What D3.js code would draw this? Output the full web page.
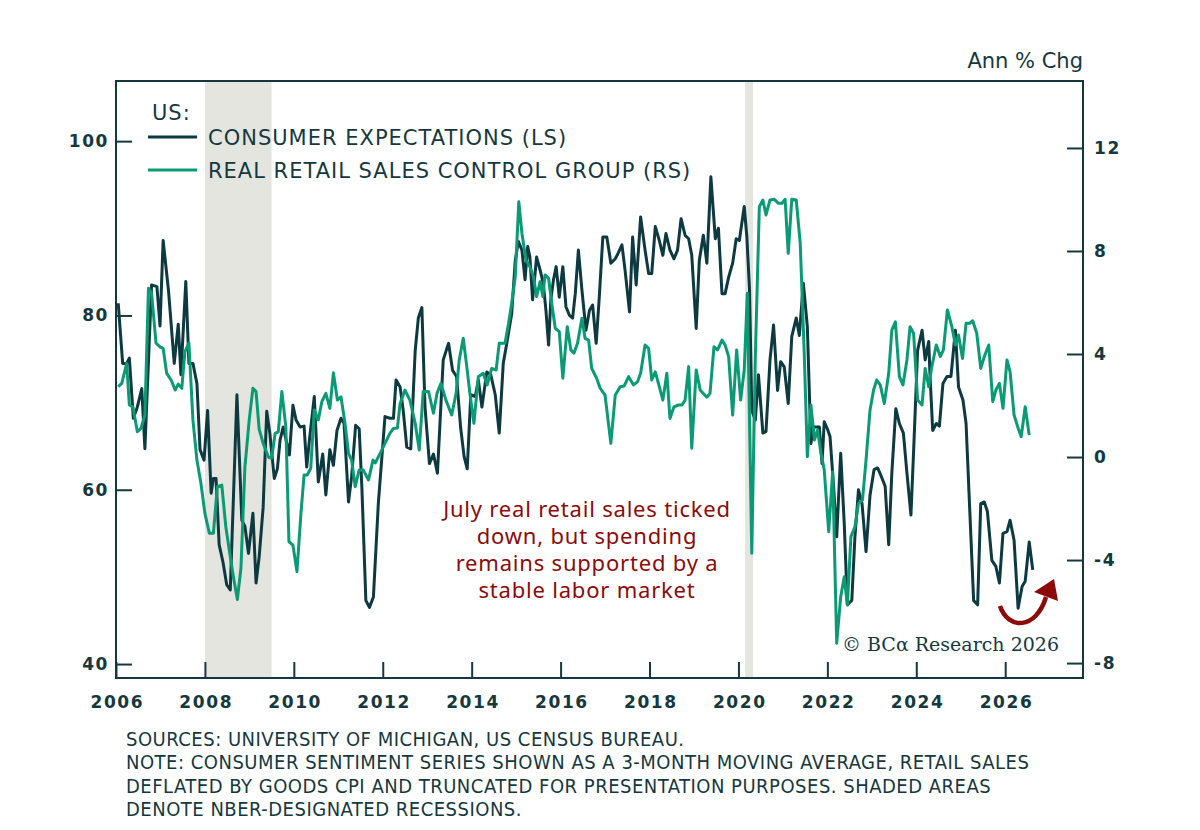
<!DOCTYPE html>
<html>
<head>
<meta charset="utf-8">
<script src="https://cdn.jsdelivr.net/npm/d3@7"></script>
<style>
  body { margin: 0; background: #ffffff; }
  svg { display: block; }
</style>
</head>
<body>
<svg id="chart"></svg>
<script>
// consumer expectations, left scale (index)
const expYears = [2006.05,2006.15,2006.24,2006.30,2006.39,2006.48,2006.58,2006.65,2006.80,2006.92,2006.99,2007.06,2007.18,2007.31,2007.40,2007.46,2007.57,2007.64,2007.73,2007.82,2007.89,2007.98,2008.06,2008.14,2008.19,2008.25,2008.32,2008.41,2008.49,2008.57,2008.72,2008.83,2008.90,2008.98,2009.08,2009.15,2009.22,2009.31,2009.39,2009.46,2009.56,2009.63,2009.69,2009.76,2009.90,2009.98,2010.05,2010.14,2010.23,2010.29,2010.35,2010.46,2010.55,2010.65,2010.72,2010.81,2010.89,2010.97,2011.06,2011.13,2011.23,2011.30,2011.39,2011.47,2011.53,2011.62,2011.70,2011.79,2011.90,2012.05,2012.16,2012.24,2012.30,2012.39,2012.46,2012.54,2012.63,2012.73,2012.80,2012.88,2012.95,2013.05,2013.14,2013.23,2013.36,2013.48,2013.57,2013.66,2013.75,2013.83,2013.90,2013.98,2014.08,2014.15,2014.23,2014.34,2014.43,2014.53,2014.62,2014.71,2014.79,2014.90,2014.98,2015.05,2015.13,2015.20,2015.26,2015.31,2015.37,2015.46,2015.54,2015.61,2015.67,2015.73,2015.78,2015.84,2015.90,2015.97,2016.05,2016.12,2016.20,2016.27,2016.33,2016.40,2016.48,2016.57,2016.65,2016.72,2016.80,2016.87,2016.95,2017.04,2017.13,2017.23,2017.30,2017.38,2017.45,2017.55,2017.62,2017.70,2017.80,2017.90,2017.98,2018.05,2018.13,2018.22,2018.30,2018.37,2018.46,2018.55,2018.63,2018.71,2018.80,2018.88,2018.95,2019.05,2019.12,2019.21,2019.29,2019.38,2019.48,2019.55,2019.63,2019.70,2019.78,2019.87,2019.95,2020.02,2020.13,2020.19,2020.25,2020.30,2020.38,2020.45,2020.55,2020.62,2020.71,2020.79,2020.88,2020.95,2021.03,2021.12,2021.20,2021.30,2021.37,2021.46,2021.55,2021.63,2021.69,2021.82,2021.88,2021.93,2022.00,2022.06,2022.14,2022.21,2022.30,2022.38,2022.45,2022.55,2022.62,2022.70,2022.78,2022.87,2022.96,2023.05,2023.13,2023.20,2023.30,2023.38,2023.45,2023.54,2023.62,2023.71,2023.79,2023.88,2023.95,2024.03,2024.13,2024.20,2024.28,2024.31,2024.37,2024.45,2024.52,2024.60,2024.69,2024.78,2024.88,2024.95,2025.05,2025.12,2025.20,2025.29,2025.38,2025.45,2025.53,2025.60,2025.70,2025.79,2025.87,2025.95,2026.04,2026.11,2026.20,2026.29,2026.38,2026.45,2026.54,2026.62];
const expValues = [81.4,74.5,74.5,75.1,68.2,69.5,71.6,64.7,83.5,83.3,78.8,88.6,82.9,74.5,79.0,73.2,83.9,74.5,74.5,72.2,64.6,63.4,69.1,59.6,61.3,61.3,53.7,51.6,49.1,48.5,70.9,56.5,55.8,52.7,57.3,49.3,52.3,58.0,69.0,66.5,61.3,62.4,65.7,67.2,64.0,69.7,68.0,67.2,67.3,62.6,65.7,70.7,60.9,64.1,59.4,64.6,62.8,66.8,68.2,67.6,58.6,61.5,67.4,67.0,60.3,47.3,46.5,47.7,58.4,68.4,68.2,68.2,72.6,71.8,69.1,64.9,64.7,76.0,79.7,80.9,69.5,63.0,64.1,61.9,74.9,76.8,73.7,73.0,67.2,63.8,62.4,70.9,70.7,72.6,69.5,73.5,73.2,70.9,66.5,74.5,76.8,80.2,86.3,88.5,87.5,84.1,87.9,86.7,81.8,86.7,85.2,83.7,80.6,76.6,81.8,84.1,85.6,82.1,85.6,81.0,80.0,79.7,82.5,87.5,82.9,78.3,80.6,81.2,76.8,82.1,89.0,89.0,86.0,86.5,87.2,88.1,85.2,80.4,89.0,83.5,91.3,87.5,84.8,84.8,90.2,88.6,86.9,89.4,87.5,86.5,87.5,91.1,89.2,88.8,86.9,78.5,86.3,89.2,86.0,95.9,88.8,90.0,82.5,82.5,84.4,86.0,88.8,88.6,92.5,89.0,82.9,69.1,68.0,73.2,66.5,66.7,74.9,78.9,71.4,74.7,74.1,69.9,77.6,79.7,77.7,83.7,78.7,65.3,67.2,67.2,63.0,67.8,67.0,66.1,60.4,54.6,64.2,56.1,46.8,47.3,54.6,60.0,58.4,52.9,59.4,62.3,62.5,61.7,60.4,53.7,61.9,69.3,67.6,66.5,61.9,57.1,65.7,76.0,78.3,74.9,77.0,73.0,66.8,67.6,67.3,72.2,73.0,73.0,78.3,71.8,70.3,67.6,58.0,47.3,46.8,58.4,58.6,57.5,51.9,51.2,49.3,55.0,55.2,56.5,54.2,46.4,48.9,49.5,54.0,50.8];

// real retail sales control group, right scale (ann % chg)
const salesYears = [2006.05,2006.13,2006.24,2006.30,2006.38,2006.48,2006.56,2006.65,2006.73,2006.80,2006.90,2006.99,2007.06,2007.14,2007.24,2007.33,2007.40,2007.48,2007.55,2007.64,2007.73,2007.82,2007.91,2008.00,2008.10,2008.19,2008.28,2008.38,2008.47,2008.57,2008.64,2008.73,2008.81,2008.90,2009.00,2009.08,2009.15,2009.22,2009.31,2009.43,2009.50,2009.58,2009.65,2009.73,2009.82,2009.89,2009.98,2010.07,2010.16,2010.23,2010.30,2010.38,2010.46,2010.55,2010.63,2010.72,2010.81,2010.89,2010.98,2011.06,2011.15,2011.23,2011.30,2011.38,2011.47,2011.56,2011.68,2011.78,2011.83,2011.94,2012.05,2012.16,2012.24,2012.33,2012.39,2012.50,2012.61,2012.73,2012.82,2012.91,2013.03,2013.14,2013.22,2013.31,2013.42,2013.55,2013.65,2013.72,2013.81,2013.89,2013.96,2014.05,2014.15,2014.26,2014.35,2014.45,2014.55,2014.62,2014.75,2014.83,2014.90,2014.98,2015.06,2015.13,2015.22,2015.31,2015.39,2015.46,2015.54,2015.60,2015.65,2015.73,2015.80,2015.88,2015.97,2016.05,2016.15,2016.23,2016.30,2016.38,2016.48,2016.55,2016.63,2016.70,2016.81,2016.89,2017.00,2017.13,2017.23,2017.34,2017.43,2017.53,2017.64,2017.73,2017.80,2017.90,2017.98,2018.05,2018.13,2018.22,2018.30,2018.39,2018.46,2018.55,2018.65,2018.73,2018.80,2018.88,2018.95,2019.05,2019.14,2019.21,2019.29,2019.36,2019.45,2019.53,2019.63,2019.70,2019.78,2019.87,2019.96,2020.05,2020.13,2020.20,2020.30,2020.38,2020.47,2020.55,2020.62,2020.71,2020.80,2020.90,2020.98,2021.05,2021.12,2021.20,2021.30,2021.39,2021.48,2021.55,2021.63,2021.71,2021.78,2021.85,2021.93,2022.03,2022.12,2022.21,2022.30,2022.38,2022.45,2022.53,2022.62,2022.70,2022.79,2022.87,2022.96,2023.04,2023.11,2023.19,2023.28,2023.38,2023.45,2023.53,2023.62,2023.70,2023.79,2023.86,2023.94,2024.03,2024.13,2024.20,2024.28,2024.35,2024.45,2024.54,2024.61,2024.70,2024.80,2024.88,2024.95,2025.04,2025.12,2025.20,2025.27,2025.36,2025.45,2025.53,2025.63,2025.72,2025.79,2025.87,2025.95,2026.04,2026.11,2026.20,2026.28,2026.36,2026.45,2026.54];
const salesValues = [2.73,2.86,3.64,2.02,1.95,0.98,1.11,1.63,6.55,6.36,4.42,4.28,4.22,3.25,2.99,2.60,2.83,2.67,4.09,4.42,1.44,-0.12,-1.02,-2.19,-2.96,-2.96,-1.15,-1.09,-2.71,-3.87,-4.65,-5.53,-4.32,-0.38,1.50,2.67,2.54,1.08,0.53,-0.01,-0.05,0.92,0.98,2.54,1.18,-3.29,-3.42,-4.45,-2.19,-0.70,-0.70,-0.44,1.83,1.44,2.15,2.47,1.89,3.27,2.21,2.34,1.31,0.14,-0.12,-1.15,-0.50,-0.50,-0.89,-0.12,-0.23,0.14,0.53,0.92,1.11,1.13,2.08,2.60,2.21,1.31,0.27,2.54,2.54,1.70,2.47,2.86,2.21,1.63,2.47,3.77,4.61,3.51,2.47,1.31,3.12,3.25,2.80,3.44,3.38,4.42,4.42,5.19,5.97,7.00,9.91,8.69,7.65,7.39,7.00,6.23,6.81,6.23,7.07,6.94,5.97,5.00,4.87,3.06,5.06,4.16,4.03,4.42,5.39,4.61,4.54,3.44,3.06,2.67,2.40,0.53,2.41,2.73,2.76,3.12,2.80,2.92,3.25,4.35,4.22,2.99,3.31,2.73,2.21,3.25,1.50,1.95,2.02,2.02,2.21,3.51,0.34,3.38,2.60,2.47,2.32,2.47,4.28,4.16,4.54,4.35,3.90,1.63,4.16,2.21,3.38,6.36,-3.74,3.90,9.72,9.98,9.40,9.98,10.01,9.85,9.85,10.01,7.91,10.01,9.98,8.30,4.03,0.01,2.02,0.66,1.05,0.21,-0.50,-2.90,-0.57,-7.23,-5.43,-4.65,-5.75,-3.09,-2.71,-1.80,-1.67,-0.12,1.83,2.60,2.99,2.80,2.08,3.25,4.93,5.25,3.12,2.80,3.77,5.06,4.80,2.21,2.02,3.44,2.73,3.51,4.35,3.90,4.16,5.71,5.06,4.35,4.74,3.83,5.19,5.19,5.29,4.80,3.44,3.90,4.35,2.15,2.60,2.86,1.89,3.77,3.31,1.63,1.18,0.79,1.95,0.85];

// NBER recessions
const recessionStarts = [2008.0, 2020.15];
const recessionEnds = [2009.5, 2020.33];

const xTicks = d3.range(2006, 2027, 2);
const leftTicks = [40, 60, 80, 100];
const rightTicks = [-8, -4, 0, 4, 8, 12];

const legendLabels = ["CONSUMER EXPECTATIONS (LS)", "REAL RETAIL SALES CONTROL GROUP (RS)"];
const noteLines = [
  "SOURCES: UNIVERSITY OF MICHIGAN, US CENSUS BUREAU.",
  "NOTE: CONSUMER SENTIMENT SERIES SHOWN AS A 3-MONTH MOVING AVERAGE, RETAIL SALES",
  "DEFLATED BY GOODS CPI AND TRUNCATED FOR PRESENTATION PURPOSES. SHADED AREAS",
  "DENOTE NBER-DESIGNATED RECESSIONS."
];
const annotationLines = [
  "July real retail sales ticked",
  "down, but spending",
  "remains supported by a",
  "stable labor market"
];

const width = 1200, height = 830;
const margin = { top: 81, right: 117, bottom: 152, left: 116 };
const ink = "#15383f";
const darkLine = "#0d3a41";
const greenLine = "#0a9b75";
const red = "#8c0a0a";
const textFont = "'DejaVu Sans', sans-serif";

const svg = d3.select("#chart").attr("width", width).attr("height", height);

const xScale = d3.scaleLinear()
  .domain([2006, 2027.75])
  .range([margin.left, width - margin.right]);
const yLeft = d3.scaleLinear()
  .domain([38.4, 106.9])
  .range([height - margin.bottom, margin.top]);
const yRight = d3.scaleLinear()
  .domain([-8.58, 14.6])
  .range([height - margin.bottom, margin.top]);

// recession shading
svg.selectAll(".recession")
  .data(recessionStarts)
  .enter()
  .append("rect")
  .attr("class", "recession")
  .attr("x", (d) => xScale(d))
  .attr("y", margin.top)
  .attr("width", (d, i) => xScale(recessionEnds[i]) - xScale(d))
  .attr("height", height - margin.bottom - margin.top)
  .attr("fill", "#e5e5e0");

// axes
function styleAxis(g) {
  g.select(".domain").remove();
  g.selectAll(".tick line").attr("stroke", ink).attr("stroke-width", 2);
  g.selectAll(".tick text")
    .attr("fill", ink)
    .attr("font-family", textFont)
    .attr("font-weight", "bold")
    .attr("letter-spacing", "1.6px")
    .attr("font-size", "17px");
}

svg.append("g")
  .attr("transform", `translate(${margin.left}, 0)`)
  .call(d3.axisLeft(yLeft).tickValues(leftTicks).tickSize(-16).tickPadding(7))
  .call(styleAxis);

svg.append("g")
  .attr("transform", `translate(${width - margin.right}, 0)`)
  .call(d3.axisRight(yRight).tickValues(rightTicks).tickSize(-16).tickPadding(11).tickFormat((d) => String(d)))
  .call(styleAxis);

svg.append("g")
  .attr("transform", `translate(0, ${height - margin.bottom})`)
  .call(d3.axisBottom(xScale).tickValues(xTicks).tickSize(-16).tickPadding(18).tickFormat((d) => String(d)))
  .call(styleAxis)
  .selectAll(".tick text")
  .attr("dx", "0.8px");

// frame
svg.append("rect")
  .attr("x", margin.left)
  .attr("y", margin.top)
  .attr("width", width - margin.right - margin.left)
  .attr("height", height - margin.bottom - margin.top)
  .attr("fill", "none")
  .attr("stroke", ink)
  .attr("stroke-width", 2);

svg.append("clipPath")
  .attr("id", "plot-clip")
  .append("rect")
  .attr("x", margin.left)
  .attr("y", margin.top)
  .attr("width", width - margin.right - margin.left)
  .attr("height", height - margin.bottom - margin.top);

const expLine = d3.line()
  .x((d, i) => xScale(expYears[i]))
  .y((d) => yLeft(d));
const salesLine = d3.line()
  .x((d, i) => xScale(salesYears[i]))
  .y((d) => yRight(d));

svg.append("path")
  .datum(expValues)
  .attr("clip-path", "url(#plot-clip)")
  .attr("d", expLine)
  .attr("fill", "none")
  .attr("stroke", darkLine)
  .attr("stroke-width", 3)
  .attr("stroke-linejoin", "round");

svg.append("path")
  .datum(salesValues)
  .attr("clip-path", "url(#plot-clip)")
  .attr("d", salesLine)
  .attr("fill", "none")
  .attr("stroke", greenLine)
  .attr("stroke-width", 3)
  .attr("stroke-linejoin", "round");

// legend
svg.append("text")
  .attr("x", 152)
  .attr("y", 120)
  .text("US:")
  .attr("fill", ink)
  .attr("font-family", textFont)
  .attr("letter-spacing", "1px")
  .attr("font-size", "21px");

svg.selectAll(".legend-line")
  .data(legendLabels)
  .enter()
  .append("line")
  .attr("class", "legend-line")
  .attr("x1", 148)
  .attr("x2", 197)
  .attr("y1", (d, i) => 137 + i * 33)
  .attr("y2", (d, i) => 137 + i * 33)
  .attr("stroke", (d, i) => (i == 0 ? darkLine : greenLine))
  .attr("stroke-width", 3);

svg.selectAll(".legend-text")
  .data(legendLabels)
  .enter()
  .append("text")
  .attr("class", "legend-text")
  .attr("x", 208)
  .attr("y", (d, i) => 137 + i * 33)
  .attr("dy", "0.36em")
  .text((d) => d)
  .attr("fill", ink)
  .attr("font-family", textFont)
  .attr("letter-spacing", "1px")
  .attr("font-size", "21px");

// right axis unit
svg.append("text")
  .attr("x", width - margin.right)
  .attr("y", 68)
  .attr("text-anchor", "end")
  .text("Ann % Chg")
  .attr("fill", ink)
  .attr("font-family", textFont)
  .attr("font-size", "21px");

// annotation
svg.selectAll(".annotation")
  .data(annotationLines)
  .enter()
  .append("text")
  .attr("class", "annotation")
  .attr("x", 587)
  .attr("y", (d, i) => 517 + i * 27)
  .attr("text-anchor", "middle")
  .text((d) => d)
  .attr("fill", red)
  .attr("font-family", "'Noto Sans', sans-serif")
  .attr("letter-spacing", "0.8px")
  .attr("font-size", "22px");

// upturn arrow
svg.append("path")
  .attr("d", "M1000,606 C1008,630 1036,630 1046,597")
  .attr("fill", "none")
  .attr("stroke", red)
  .attr("stroke-width", 4.5);
svg.append("path")
  .attr("d", "M1054,579 L1034,592 L1058,601 Z")
  .attr("fill", red);

// copyright
svg.append("text")
  .attr("x", 1059)
  .attr("y", 651)
  .attr("text-anchor", "end")
  .text("© BCα Research 2026")
  .attr("fill", ink)
  .attr("font-family", "'DejaVu Serif', 'Liberation Serif', serif")
  .attr("font-size", "19px");

// footnotes
svg.selectAll(".note")
  .data(noteLines)
  .enter()
  .append("text")
  .attr("class", "note")
  .attr("x", 126)
  .attr("y", (d, i) => 746 + i * 23.4)
  .text((d) => d)
  .attr("fill", ink)
  .attr("font-family", "'DejaVu Sans Condensed', 'DejaVu Sans', sans-serif")
  .attr("font-stretch", "condensed")
  .attr("letter-spacing", "0.5px")
  .attr("font-size", "20px");
</script>
</body>
</html>
